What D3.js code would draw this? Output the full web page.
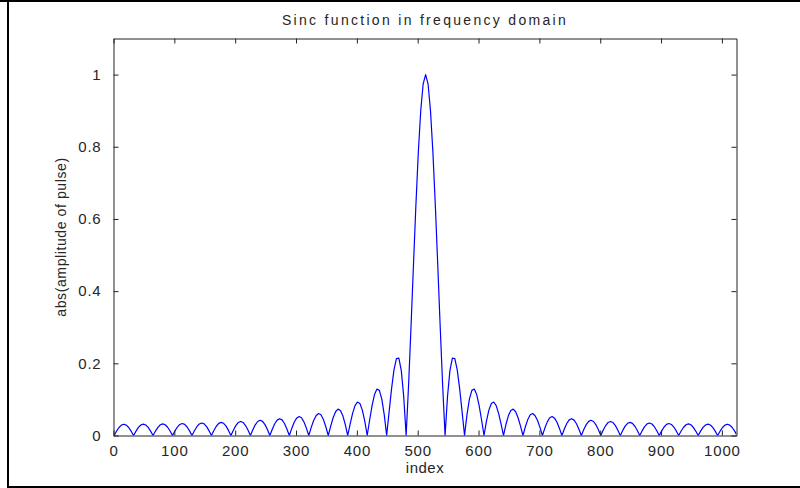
<!DOCTYPE html>
<html>
<head>
<meta charset="utf-8">
<script src="https://cdn.jsdelivr.net/npm/d3@7"></script>
<style>
  html, body { margin: 0; padding: 0; background: #fff; }
  svg { display: block; font-family: "Liberation Sans", Arial, sans-serif; }
</style>
</head>
<body>
<svg id="chart" width="800" height="488"></svg>
<script>
// |FFT| of a 32-sample rectangular pulse (1024 bins, shifted), sampled every 4 bins.
// Sample positions: 1, 5, 9, ..., 1021, then the last bin 1024.
const sampleIndex = d3.range(1, 1024, 4).concat([1024]);

const magnitude = [
  // left side lobes, outermost first
  0, 0.0120, 0.0221, 0.0289, 0.0313, 0.0289, 0.0221, 0.0120,
  0, 0.0121, 0.0223, 0.0292, 0.0316, 0.0292, 0.0224, 0.0121,
  0, 0.0123, 0.0227, 0.0297, 0.0322, 0.0298, 0.0228, 0.0124,
  0, 0.0127, 0.0234, 0.0306, 0.0332, 0.0308, 0.0236, 0.0128,
  0, 0.0132, 0.0244, 0.0319, 0.0346, 0.0321, 0.0246, 0.0134,
  0, 0.0138, 0.0256, 0.0335, 0.0364, 0.0338, 0.0259, 0.0141,
  0, 0.0148, 0.0274, 0.0358, 0.0389, 0.0361, 0.0277, 0.0151,
  0, 0.0160, 0.0297, 0.0388, 0.0422, 0.0392, 0.0301, 0.0164,
  0, 0.0175, 0.0326, 0.0426, 0.0465, 0.0433, 0.0333, 0.0181,
  0, 0.0196, 0.0366, 0.0480, 0.0525, 0.0490, 0.0377, 0.0206,
  0, 0.0224, 0.0415, 0.0549, 0.0608, 0.0576, 0.0446, 0.0243,
  0, 0.0260, 0.0491, 0.0658, 0.0731, 0.0693, 0.0545, 0.0304,
  0, 0.0322, 0.0614, 0.0829, 0.0928, 0.0888, 0.0704, 0.0396,
  0, 0.0429, 0.0829, 0.1133, 0.1286, 0.1250, 0.1009, 0.0577,
  0, 0.0653, 0.1292, 0.1818, 0.2130, 0.2145, 0.1805, 0.1085,
  // main lobe
  0, 0.1394, 0.3004, 0.4708, 0.6369, 0.7844, 0.9004, 0.9745,
  1, 0.9745, 0.9004, 0.7844, 0.6369, 0.4708, 0.3004, 0.1394,
  // right side lobes
  0, 0.1085, 0.1805, 0.2145, 0.2130, 0.1818, 0.1292, 0.0653,
  0, 0.0577, 0.1009, 0.1250, 0.1286, 0.1133, 0.0829, 0.0429,
  0, 0.0396, 0.0704, 0.0888, 0.0928, 0.0829, 0.0614, 0.0322,
  0, 0.0304, 0.0545, 0.0693, 0.0731, 0.0658, 0.0491, 0.0260,
  0, 0.0243, 0.0446, 0.0576, 0.0608, 0.0549, 0.0415, 0.0224,
  0, 0.0206, 0.0377, 0.0490, 0.0525, 0.0480, 0.0366, 0.0196,
  0, 0.0181, 0.0333, 0.0433, 0.0465, 0.0426, 0.0326, 0.0175,
  0, 0.0164, 0.0301, 0.0392, 0.0422, 0.0388, 0.0297, 0.0160,
  0, 0.0151, 0.0277, 0.0361, 0.0389, 0.0358, 0.0274, 0.0148,
  0, 0.0141, 0.0259, 0.0338, 0.0364, 0.0335, 0.0256, 0.0138,
  0, 0.0134, 0.0246, 0.0321, 0.0346, 0.0319, 0.0244, 0.0132,
  0, 0.0128, 0.0236, 0.0308, 0.0332, 0.0306, 0.0234, 0.0127,
  0, 0.0124, 0.0228, 0.0298, 0.0322, 0.0297, 0.0227, 0.0123,
  0, 0.0121, 0.0224, 0.0292, 0.0316, 0.0292, 0.0223, 0.0121,
  0, 0.0120, 0.0221, 0.0289, 0.0313, 0.0289, 0.0221, 0.0120,
  0.0031
];

const xTicks = [0, 100, 200, 300, 400, 500, 600, 700, 800, 900, 1000];
const yTicks = [0, 0.2, 0.4, 0.6, 0.8, 1];
const xDomain = [0, 1024];
const yDomain = [0, 1.1];

const titleText = "Sinc function in frequency domain";
const xLabelText = "index";
const yLabelText = "abs(amplitude of pulse)";

const W = 800, H = 488;
const plot = { left: 113.5, top: 38.5, right: 736.5, bottom: 435.5 };
const tickLen = 5;

const svg = d3.select("#chart");

// figure frame
svg.append("rect").attr("x", 0).attr("y", 0).attr("width", W).attr("height", H).attr("fill", "#fff");
svg.append("line").attr("x1", 0).attr("x2", W).attr("y1", 1).attr("y2", 1)
  .attr("stroke", "#000").attr("stroke-width", 2);
svg.append("line").attr("x1", 8).attr("x2", 8).attr("y1", 0).attr("y2", H)
  .attr("stroke", "#000").attr("stroke-width", 2);
svg.append("line").attr("x1", 7).attr("x2", W).attr("y1", 487).attr("y2", 487)
  .attr("stroke", "#000").attr("stroke-width", 2);

const x = d3.scaleLinear().domain(xDomain).range([plot.left, plot.right]);
const y = d3.scaleLinear().domain(yDomain).range([plot.bottom, plot.top]);

const points = sampleIndex.map((d, i) => [d, magnitude[i]]);

// clip the curve to the axes box
svg.append("clipPath").attr("id", "box")
  .append("rect")
  .attr("x", plot.left).attr("y", plot.top)
  .attr("width", plot.right - plot.left).attr("height", plot.bottom - plot.top);

svg.append("path")
  .datum(points)
  .attr("clip-path", "url(#box)")
  .attr("fill", "none")
  .attr("stroke", "#0000ff")
  .attr("stroke-width", 1.2)
  .attr("stroke-linejoin", "round")
  .attr("d", d3.line().x(d => x(d[0])).y(d => y(d[1])));

const axisColor = "#222";
const labelColor = "#262626";

// bottom axis with inward ticks
const gx = svg.append("g")
  .attr("transform", `translate(0,${plot.bottom})`)
  .call(d3.axisBottom(x).tickValues(xTicks).tickSizeInner(-tickLen).tickSizeOuter(0).tickPadding(10).tickFormat(d3.format("d")));
// left axis
const gy = svg.append("g")
  .attr("transform", `translate(${plot.left},0)`)
  .call(d3.axisLeft(y).tickValues(yTicks).tickSizeInner(-tickLen).tickSizeOuter(0).tickPadding(12).tickFormat(d => d === 0 || d === 1 ? d3.format("d")(d) : d3.format(".1f")(d)));
// top and right mirrored ticks, no labels
const gt = svg.append("g")
  .attr("transform", `translate(0,${plot.top})`)
  .call(d3.axisTop(x).tickValues(xTicks).tickSizeInner(-tickLen).tickSizeOuter(0).tickFormat(""));
const gr = svg.append("g")
  .attr("transform", `translate(${plot.right},0)`)
  .call(d3.axisRight(y).tickValues(yTicks).tickSizeInner(-tickLen).tickSizeOuter(0).tickFormat(""));

[gx, gy, gt, gr].forEach(g => {
  g.select(".domain").attr("stroke", axisColor);
  g.selectAll(".tick line").attr("stroke", axisColor);
  g.selectAll("text")
    .attr("fill", labelColor)
    .style("font-size", "15px")
    .style("letter-spacing", "0.8px");
});

// title and axis labels
svg.append("text")
  .attr("x", (plot.left + plot.right) / 2).attr("y", 25)
  .attr("text-anchor", "middle")
  .attr("fill", labelColor)
  .style("font-size", "14px")
  .style("letter-spacing", "2.3px")
  .text(titleText);

svg.append("text")
  .attr("x", (plot.left + plot.right) / 2).attr("y", 473)
  .attr("text-anchor", "middle")
  .attr("fill", labelColor)
  .style("font-size", "15px")
  .style("letter-spacing", "0.5px")
  .text(xLabelText);

svg.append("text")
  .attr("transform", `translate(66,${(plot.top + plot.bottom) / 2}) rotate(-90)`)
  .attr("text-anchor", "middle")
  .attr("fill", labelColor)
  .style("font-size", "14px")
  .style("letter-spacing", "0.6px")
  .text(yLabelText);
</script>
</body>
</html>
